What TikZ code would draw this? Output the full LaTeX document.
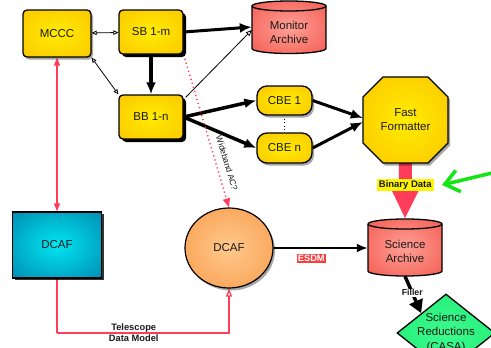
\documentclass[tikz,border=0pt]{standalone}
\usepackage{fontspec}
\setmainfont{Liberation Sans}
\usetikzlibrary{arrows.meta,shapes.geometric,shadows,backgrounds}
\definecolor{ylin}{RGB}{255,236,0}
\definecolor{ylout}{RGB}{250,190,0}
\definecolor{rdin}{RGB}{255,160,150}
\definecolor{rdout}{RGB}{240,75,65}
\definecolor{orin}{RGB}{255,200,140}
\definecolor{orout}{RGB}{245,140,50}
\definecolor{blin}{RGB}{0,230,240}
\definecolor{blout}{RGB}{0,105,155}
\definecolor{grnin}{RGB}{60,250,140}
\definecolor{grnout}{RGB}{20,230,110}
\definecolor{redln}{RGB}{255,60,90}
\definecolor{esdmred}{RGB}{250,60,60}
\definecolor{bdyellow}{RGB}{255,245,0}
\definecolor{txt}{RGB}{25,25,25}
\definecolor{arrowgreen}{RGB}{20,230,20}
\pgfdeclareradialshading{yshade}{\pgfpoint{0bp}{0bp}}{color(0bp)=(ylin); color(45bp)=(ylout); color(70bp)=(ylout)}
\pgfdeclareradialshading{rshade}{\pgfpoint{0bp}{0bp}}{color(0bp)=(rdin); color(45bp)=(rdout); color(70bp)=(rdout)}
\pgfdeclareradialshading{oshade}{\pgfpoint{0bp}{0bp}}{color(0bp)=(orin); color(50bp)=(orout); color(70bp)=(orout)}
\pgfdeclareradialshading{bshade}{\pgfpoint{0bp}{0bp}}{color(0bp)=(blin); color(50bp)=(blout); color(70bp)=(blout)}
\pgfdeclareradialshading{gshade}{\pgfpoint{0bp}{0bp}}{color(0bp)=(grnin); color(50bp)=(grnout); color(70bp)=(grnout)}
\begin{document}
\begin{tikzpicture}[x=1pt,y=1pt, font=\fontsize{11.5}{14}\selectfont, text=txt,
 ybox/.style={rectangle, rounded corners=4pt, draw=black, line width=1.3pt, shading=yshade, minimum width=64pt, minimum height=44pt, align=center, inner sep=0pt},
 hardshadow/.style={drop shadow={shadow xshift=3pt, shadow yshift=-3pt, fill=black, opacity=1}},
 softshadow/.style={drop shadow={shadow xshift=2pt, shadow yshift=-2.5pt, fill=black, opacity=0.35}},
 plain/.style={align=center, inner sep=0pt},
 thinarr/.style={line width=0.8pt, {Triangle[open,length=5pt,width=4.5pt]}-{Triangle[open,length=5pt,width=4.5pt]}},
 thickarr/.style={line width=3pt, -{Latex[length=12pt,width=10pt]}},
 redl/.style={draw=redln, line width=1.3pt},
 boldlbl/.style={font=\bfseries\fontsize{9.3}{11}\selectfont, text=txt}
]
\useasboundingbox (0,0) rectangle (491,-348);
\clip (0,0) rectangle (491,-348);

% Monitor Archive cylinder
\path[draw=black, line width=1.3pt, shading=rshade]
  (252,-6) -- (252,-48.5) arc[start angle=180, end angle=360, x radius=37pt, y radius=5pt]
  -- (326,-6) arc[start angle=0, end angle=180, x radius=37pt, y radius=5pt] -- cycle;
\draw[line width=1.3pt] (252,-6) arc[start angle=180, end angle=360, x radius=37pt, y radius=5pt];
\node[plain, minimum width=74pt, minimum height=46pt] (ma) at (289,-32) {Monitor\\Archive};

% Science Archive cylinder
\path[draw=black, line width=1.3pt, shading=rshade]
  (368,-224) -- (368,-271) arc[start angle=180, end angle=360, x radius=37pt, y radius=5pt]
  -- (442,-224) arc[start angle=0, end angle=180, x radius=37pt, y radius=5pt] -- cycle;
\draw[line width=1.3pt] (368,-224) arc[start angle=180, end angle=360, x radius=37pt, y radius=5pt];
\node[plain, minimum width=74pt, minimum height=50pt] (sa) at (405,-251) {Science\\Archive};
\coordinate (satop) at (405,-219);

% Fast Formatter octagon
\path[draw=black, line width=1.3pt, shading=yshade, softshadow]
  (383,-77) -- (428,-77) -- (448,-97) -- (448,-143) -- (428,-163) -- (383,-163) -- (363,-143) -- (363,-97) -- cycle;
\node[plain, minimum width=85pt, minimum height=86pt] (ff) at (405.5,-120) {Fast\\Formatter};

% boxes
\node[ybox, softshadow, minimum width=68pt, minimum height=47pt] (mccc) at (57,-33.5) {MCCC};
\node[ybox, hardshadow] (sb) at (151,-32) {SB 1-m};
\node[ybox, hardshadow] (bb) at (151,-117) {BB 1-n};
\node[ybox, rounded corners=10pt, softshadow, minimum width=55pt, minimum height=29pt] (cbe1) at (284.5,-100.5) {CBE 1};
\node[ybox, rounded corners=10pt, softshadow, minimum width=55pt, minimum height=30pt] (cben) at (284.5,-148) {CBE n};

\node[ellipse, draw=black, line width=1.2pt, shading=oshade, minimum width=88pt, minimum height=80pt, softshadow] (dcafo) at (229,-248) {DCAF};
\node[rectangle, draw=black, line width=1.5pt, shading=bshade, minimum width=89pt, minimum height=66pt, drop shadow={shadow xshift=2pt, shadow yshift=-2pt, fill=black, opacity=0.8}] (dcafb) at (57,-245) {DCAF};

\node[diamond, draw=black, line width=1.3pt, shading=gshade, minimum width=98pt, minimum height=78pt, inner sep=0pt,
  label={[align=center, font=\fontsize{11.5}{14.5}\selectfont]center:Science\\Reductions\\(CASA)}] (sr) at (446,-333) {};

\coordinate (tdm) at (57,-333);

\begin{pgfonlayer}{background}
\draw[thinarr] (mccc) -- (sb);
\draw[thinarr] (mccc.south east) -- (bb.north west);
\draw[thickarr] (sb.east) -- ([yshift=5pt]ma.west);
\draw[thickarr, line width=4pt] (sb) -- (bb);
\draw[line width=0.8pt, -{Triangle[open,length=6pt,width=5pt]}] ([shift={(2pt,-3pt)}]bb.north east) -- ([yshift=2pt]ma.west);
\draw[thickarr, line width=3.5pt] (bb.east) -- (cbe1.west);
\draw[thickarr, line width=3.5pt] (bb.east) -- (cben.west);
\draw[thickarr] (cbe1.east) -- ([yshift=2pt]ff.west);
\draw[thickarr] (cben.east) -- ([yshift=-2pt]ff.west);
\draw[line width=1pt, dash pattern=on 1pt off 2.5pt, shorten <=3pt, shorten >=3pt] (cbe1.south) -- (cben.north);

\draw[redl, {Triangle[length=8pt,width=6pt]}-{Triangle[length=8pt,width=6pt]}] (mccc.south) -- (mccc.south |- dcafb.north);
\draw[redl] (dcafb.south) -- (tdm);
\draw[redl, -{Triangle[open,length=8pt,width=6pt]}] (tdm) -| node[pos=0.223, align=center, boldlbl] {Telescope\\Data Model} (dcafo.south);
\draw[draw=redln, line width=1.5pt, dash pattern=on 1.2pt off 3pt, -{Triangle[length=9pt,width=7pt]}] (sb.south east) -- node[sloped, above=3.5pt, pos=0.73, font=\fontsize{8.5}{10}\selectfont] {Wideband AC?} (dcafo.north);

\draw[line width=2pt, -{Latex[length=11pt,width=9pt]}] (dcafo.east) -- node[pos=0.4, below=5pt, fill=esdmred, text=white, inner sep=1pt, font=\bfseries\fontsize{9.3}{10}\selectfont] {ESDM} (dcafo.east -| sa.west);
\draw[draw=redln, line width=13pt, -{Triangle[length=30pt,width=26pt]}] (ff.south) -- node[pos=0.39, fill=bdyellow, inner sep=1.8pt, font=\bfseries\fontsize{9.5}{11}\selectfont] (bd) {Binary Data} (satop);
\draw[line width=3.5pt, -{Triangle[length=13pt,width=14pt]}] (sa.south) -- node[pos=0.45, fill=white, inner sep=1pt, font=\bfseries\fontsize{8.8}{10}\selectfont] {Filler} (sr.north west);
\end{pgfonlayer}

\coordinate (gstart) at (492,-173);
\draw[arrowgreen, line width=3.5pt, line cap=round, -{Straight Barb[length=14pt,width=22pt]}] (gstart) -- ([xshift=2pt]bd.east);
\end{tikzpicture}
\end{document}
